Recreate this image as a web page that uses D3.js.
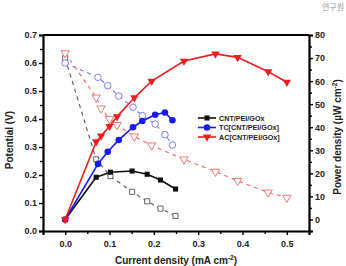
<!DOCTYPE html>
<html>
<head>
<meta charset="utf-8">
<script src="https://cdn.jsdelivr.net/npm/d3@7"></script>
<style>
  body { margin: 0; background: #fff; }
  svg { display: block; font-family: "Liberation Sans", Arial, sans-serif; }
  .tick text { font-weight: bold; font-size: 9px; fill: #222; }
</style>
</head>
<body>
<div id="wrapper"></div>
<script>
// DATA
const seriesNames = ["CNT/PEI/GOx", "TC[CNT/PEI/GOx]", "AC[CNT/PEI/GOx]"];

const cntCurrent = [0, 0.07, 0.102, 0.151, 0.185, 0.215, 0.249];
const cntPotential = [0.617, 0.256, 0.196, 0.140, 0.106, 0.080, 0.054];
const cntPower = [0, 18.3, 20.5, 21.0, 19.6, 17.1, 13.2];

const tcCurrent = [0, 0.074, 0.096, 0.121, 0.153, 0.174, 0.203, 0.225, 0.242];
const tcPotential = [0.600, 0.549, 0.519, 0.482, 0.442, 0.412, 0.382, 0.344, 0.307];
const tcPower = [0, 24.1, 29.4, 34.5, 40.0, 42.7, 45.4, 46.4, 43.0];

const acCurrent = [0, 0.070, 0.081, 0.100, 0.117, 0.156, 0.195, 0.268, 0.339, 0.389, 0.458, 0.500];
const acPotential = [0.635, 0.477, 0.438, 0.400, 0.379, 0.338, 0.306, 0.256, 0.212, 0.179, 0.138, 0.119];
const acPower = [0, 33.7, 36.2, 40.4, 44.6, 52.8, 60.0, 68.7, 71.8, 70.3, 64.1, 59.5];

const xTicks = [0, 0.1, 0.2, 0.3, 0.4, 0.5];
const leftTicks = [0, 0.1, 0.2, 0.3, 0.4, 0.5, 0.6, 0.7];
const rightTicks = [0, 10, 20, 30, 40, 50, 60, 70, 80];

function drawChart() {
  const dimensions = {
    width: 346,
    height: 266,
    margin: { top: 35, right: 37, bottom: 35, left: 43 }
  };
  dimensions.boundedWidth = dimensions.width - dimensions.margin.left - dimensions.margin.right;
  dimensions.boundedHeight = dimensions.height - dimensions.margin.top - dimensions.margin.bottom;

  const series = [
    { name: seriesNames[0], current: cntCurrent, potential: cntPotential, power: cntPower,
      color: "#111", light: "#555", symbol: d3.symbolSquare, size: 26 },
    { name: seriesNames[1], current: tcCurrent, potential: tcPotential, power: tcPower,
      color: "#1a1aef", light: "#7070ee", symbol: d3.symbolCircle, size: 34 },
    { name: seriesNames[2], current: acCurrent, potential: acPotential, power: acPower,
      color: "#ee1c1c", light: "#f06868", symbol: d3.symbolTriangle, size: 30 }
  ];

  const wrapper = d3.select("#wrapper").append("svg")
    .attr("width", dimensions.width)
    .attr("height", dimensions.height);

  const bounds = wrapper.append("g")
    .attr("transform", `translate(${dimensions.margin.left},${dimensions.margin.top})`);

  // SCALES
  const xScale = d3.scaleLinear().domain([-0.05, 0.55]).range([0, dimensions.boundedWidth]);
  const yLeft = d3.scaleLinear().domain([0, 0.7]).range([dimensions.boundedHeight, 0]);
  const yRight = d3.scaleLinear().domain([-5, 80]).range([dimensions.boundedHeight, 0]);

  // AXES - minor ticks first, then majors
  const minorX = d3.range(-0.05, 0.56, 0.1);
  const minorL = d3.range(0.05, 0.7, 0.1);
  const minorR = d3.range(-5, 80, 10);

  bounds.append("g")
    .attr("transform", `translate(0,${dimensions.boundedHeight})`)
    .call(d3.axisBottom(xScale).tickValues(minorX).tickSize(3).tickFormat(""))
    .call(g => g.select(".domain").remove());
  bounds.append("g")
    .call(d3.axisLeft(yLeft).tickValues(minorL).tickSize(3).tickFormat(""))
    .call(g => g.select(".domain").remove());
  bounds.append("g")
    .attr("transform", `translate(${dimensions.boundedWidth},0)`)
    .call(d3.axisRight(yRight).tickValues(minorR).tickSize(3).tickFormat(""))
    .call(g => g.select(".domain").remove());

  bounds.append("g")
    .attr("transform", `translate(0,${dimensions.boundedHeight})`)
    .call(d3.axisBottom(xScale).tickValues(xTicks).tickFormat(d3.format(".1f")).tickSize(4).tickPadding(6));
  bounds.append("g")
    .call(d3.axisLeft(yLeft).tickValues(leftTicks).tickFormat(d3.format(".1f")).tickSize(4).tickPadding(2));
  bounds.append("g")
    .attr("transform", `translate(${dimensions.boundedWidth},0)`)
    .call(d3.axisRight(yRight).tickValues(rightTicks).tickSize(4).tickPadding(2));

  bounds.selectAll(".domain").attr("stroke-width", 2.2).attr("stroke", "#000");
  bounds.selectAll(".tick line").attr("stroke-width", 1.4);

  // top frame line
  bounds.append("line")
    .attr("x1", 0).attr("x2", dimensions.boundedWidth)
    .attr("y1", 0).attr("y2", 0)
    .attr("stroke", "#000").attr("stroke-width", 2.2);

  // DRAW DATA
  series.forEach(s => {
    const rows = s.current.map((c, i) => ({ c, v: s.potential[i], p: s.power[i] }));

    const potentialLine = d3.line().x(d => xScale(d.c)).y(d => yLeft(d.v));
    const powerLine = d3.line().x(d => xScale(d.c)).y(d => yRight(d.p));

    bounds.append("path")
      .attr("d", potentialLine(rows))
      .attr("fill", "none")
      .attr("stroke", s.light)
      .attr("stroke-width", 1.1)
      .attr("stroke-dasharray", "4,4");

    bounds.append("path")
      .attr("d", powerLine(rows))
      .attr("fill", "none")
      .attr("stroke", s.color)
      .attr("stroke-width", 1.6);

    const flip = s.symbol === d3.symbolTriangle ? " rotate(180)" : "";
    const sym = d3.symbol().type(s.symbol).size(s.size);

    bounds.selectAll(null).data(rows).enter().append("path")
      .attr("d", sym)
      .attr("transform", d => `translate(${xScale(d.c)},${yLeft(d.v)})${flip}`)
      .attr("fill", "#fff")
      .attr("stroke", s.light)
      .attr("stroke-width", 0.9);

    bounds.selectAll(null).data(rows).enter().append("path")
      .attr("d", sym)
      .attr("transform", d => `translate(${xScale(d.c)},${yRight(d.p)})${flip}`)
      .attr("fill", s.color);
  });

  // LEGEND
  const legend = bounds.append("g").attr("transform", "translate(155,83)");
  series.forEach((s, i) => {
    const row = legend.append("g").attr("transform", `translate(0,${i * 9.5})`);
    row.append("line").attr("x1", 0).attr("x2", 18).attr("stroke", s.color).attr("stroke-width", 1.6);
    row.append("path")
      .attr("d", d3.symbol().type(s.symbol).size(s.size)())
      .attr("transform", `translate(9,0)${s.symbol === d3.symbolTriangle ? " rotate(180)" : ""}`)
      .attr("fill", s.color);
    row.append("text")
      .attr("x", 21).attr("y", 2.6)
      .attr("font-size", 7.2).attr("font-weight", "bold").attr("fill", "#222")
      .text(s.name);
  });

  // AXIS TITLES
  wrapper.append("text")
    .attr("transform", "translate(13,140) rotate(-90)")
    .attr("text-anchor", "middle")
    .attr("font-size", 10).attr("font-weight", "bold").attr("fill", "#222")
    .text("Potential (V)");

  const rt = wrapper.append("text")
    .attr("transform", "translate(341,137) rotate(-90)")
    .attr("text-anchor", "middle")
    .attr("font-size", 10).attr("font-weight", "bold").attr("fill", "#222");
  rt.append("tspan").text("Power density (\u00b5W cm");
  rt.append("tspan").attr("dy", -4).attr("font-size", 6.5).text("-2");
  rt.append("tspan").attr("dy", 4).text(")");

  const bt = wrapper.append("text")
    .attr("x", 176).attr("y", 264)
    .attr("text-anchor", "middle")
    .attr("font-size", 10).attr("font-weight", "bold").attr("fill", "#222");
  bt.append("tspan").text("Current density (mA cm");
  bt.append("tspan").attr("dy", -4).attr("font-size", 6.5).text("-2");
  bt.append("tspan").attr("dy", 4).text(")");

  wrapper.append("text")
    .attr("x", 344).attr("y", 10)
    .attr("text-anchor", "end")
    .attr("font-size", 8).attr("fill", "#999")
    .attr("font-family", "Noto Sans CJK KR")
    .text("연구원");
}
drawChart();
</script>
</body>
</html>
